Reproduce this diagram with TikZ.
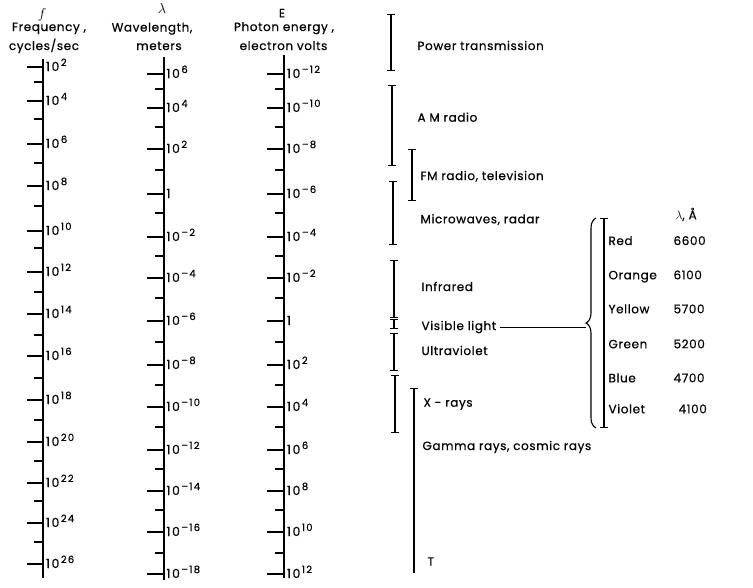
\documentclass[tikz,border=0pt]{standalone}
\usepackage{fontspec}
\setmainfont{Poppins}[LetterSpace=5,FakeBold=0.5]
\usepackage{tikz}
\usetikzlibrary{arrows.meta,decorations.pathreplacing}

\newcommand{\pw}[1]{10\kern1.5pt\raisebox{5pt}{\fontsize{10}{10}\selectfont\addfontfeature{LetterSpace=12}#1}}

\begin{document}
\begin{tikzpicture}[x=1pt,y=-1pt,line width=1.1pt,
  every node/.style={font=\fontsize{12}{14}\selectfont, inner sep=0pt},
  lbl/.style={anchor=base west},
  tl/.style={anchor=base west,font=\fontsize{12.5}{14}\selectfont\addfontfeature{LetterSpace=12}},
  hd/.style={anchor=base},
  sym/.style={anchor=base,font=\fontsize{15}{15}\selectfont},
  band/.style={{Bar[width=8pt]}-{Bar[width=8pt]}}]
\useasboundingbox (0,0) rectangle (753,587);

% column heads
\node[sym] (fsym)  at (42,18)    {$f$};
\node[hd]  (fname) at (49,31)    {Frequency ,};
\node[hd]  (funit) at (44,50)    {cycles/sec};
\node[sym] (lsym)  at (162,13)   {$\lambda$};
\node[hd]  (lname) at (152,31.5) {Wavelength,};
\node[hd]  (lunit) at (159,50)   {meters};
\node[hd]  (esym)  at (282,17.3) {E};
\node[hd]  (ename) at (284,31)   {Photon energy ,};
\node[hd]  (eunit) at (283.5,50) {electron volts};

% the three scales
\draw (43,59) -- (43,578);
\draw (164,57) -- (164,580);
\draw (284,55) -- (284,578);
\foreach \y/\e [count=\i] in {67/2,101/4,144/6,186/8,231/10,272/12,314/14,356/16,400/18,442/20,483/22,523/24,564/26}{
  \draw (27,\y) -- (43,\y);
  \node[tl] (fl\i) at (45.5,\y+4) {\pw{\e}};
}
\foreach \y in {82,119,163,206,248,292,335,378,420,461,501,542}
  \draw (34,\y) -- (43,\y);
\foreach \y/\wl/\en [count=\i] in {74/\pw{6}/\pw{--12},108/\pw{4}/\pw{--10},149/\pw{2}/\pw{--8},194/1/\pw{--6},
    237/\pw{--2}/\pw{--4},278/\pw{--4}/\pw{--2},321/\pw{--6}/1,365/\pw{--8}/\pw{2},407/\pw{--10}/\pw{4},
    450/\pw{--12}/\pw{6},491/\pw{--14}/\pw{8},532/\pw{--16}/\pw{10},574/\pw{--18}/\pw{12}}{
  \draw (147,\y) -- (164,\y);
  \draw (267,\y) -- (284,\y);
  \node[tl] (wl\i) at (166,\y+4) {\wl};
  \node[tl] (en\i) at (286.5,\y+4) {\en};
}
\foreach \y in {89,127,170,213,256,298,342,385,427,469,510,553}{
  \draw (155,\y) -- (164,\y);
  \draw (275,\y) -- (284,\y);
}

% bands
\draw[band] (391,14) -- (391,71);
\node[lbl] (power) at (417,50) {Power transmission};
\draw[band] (392,85) -- (392,166);
\node[lbl] (am) at (417,121.7) {A M radio};
\draw[band] (412,149) -- (412,201);
\node[lbl] (fm) at (420,180) {FM radio, television};
\draw[band] (393,181) -- (393,245);
\node[lbl] (micro) at (420,223.3) {Microwaves, radar};
\draw[band] (394,260) -- (394,318);
\node[lbl] (ir) at (421,291) {Infrared};
\draw[band] (394,319) -- (394,329);
\node[lbl] (vis) at (421,330) {Visible light};
\draw[band] (394,333) -- (394,371);
\node[lbl] (uv) at (421,355) {Ultraviolet};
\draw[band] (395,375) -- (395,433);
\node[lbl] (xray) at (423,406.7) {X - rays};
\draw[{Bar[width=8pt]}-] (414,388) -- (414,573);
\node[lbl] (gamma) at (422,450) {Gamma rays, cosmic rays};
\node[lbl] (tee) at (427,565.7) {T};

% visible spectrum
\draw[decorate,decoration={brace,amplitude=10pt}] (596,428) -- (596,218);
\coordinate (vtip) at (586,323);
\draw ([xshift=3pt]vis.east) -- (vis.east -| vtip);
\draw[band] (604,218) -- (604,428);
\node[lbl] (lamA) at (675,219.3) {$\lambda$, Å};
\foreach \y/\c/\w/\x [count=\i] in {245/Red/6600/673,279.3/Orange/6100/673,313.3/Yellow/5700/673,
    348.3/Green/5200/673,382.3/Blue/4700/673,413.3/Violet/4100/678}{
  \node[lbl] (col\i) at (608,\y) {\c};
  \node[lbl] (wav\i) at (\x,\y) {\w};
}
\end{tikzpicture}
\end{document}
